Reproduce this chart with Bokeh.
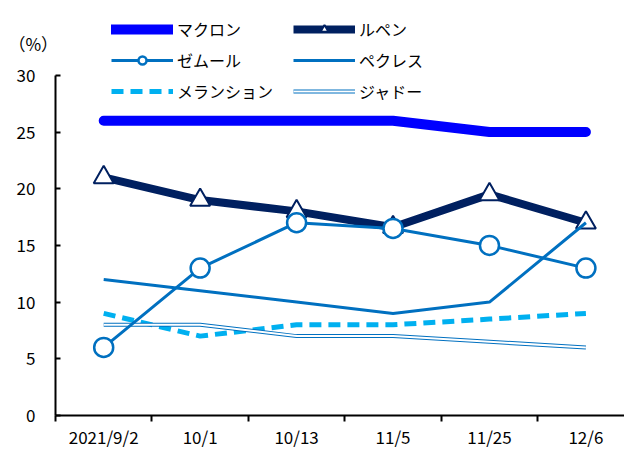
from bokeh.plotting import figure
from bokeh.models import Range1d, FixedTicker, Legend, LegendItem, Label
from bokeh.embed import file_html
from bokeh.resources import INLINE

categories = ["2021/9/2", "10/1", "10/13", "11/5", "11/25", "12/6"]
macron = [26, 26, 26, 26, 25, 25]
lepen = [21, 19, 18, 16.6, 19.5, 17]
zemmour = [6, 13, 17, 16.5, 15, 13]
pecresse = [12, 11, 10, 9, 10, 17]
melenchon = [9, 7, 8, 8, 8.5, 9]
jadot = [8, 8, 7, 7, 6.5, 6]

FONT = "Noto Sans CJK JP"
xs = list(range(len(categories)))

# frame covers the whole canvas; axes sit at fixed data locations inside it
p = figure(width=624, height=449, output_backend="svg", toolbar_location=None,
           x_range=Range1d(-1.07, 5.4), y_range=Range1d(-3.0, 36.6),
           min_border_left=0, min_border_right=0, min_border_top=0, min_border_bottom=0)
p.outline_line_color = None
p.xgrid.visible = False
p.ygrid.visible = False
p.background_fill_color = "white"
p.border_fill_color = "white"

r_mac = p.line(xs, macron, line_color="#0000FF", line_width=10, line_cap="round", line_join="round")
r_lep = p.line(xs, lepen, line_color="#002060", line_width=8, line_join="round")
r_lep_m = p.scatter(xs, lepen, marker="triangle", size=20, fill_color="white", line_color="#002060", line_width=2)
r_pec = p.line(xs, pecresse, line_color="#0070C0", line_width=3)
r_mel = p.line(xs, melenchon, line_color="#00B0F0", line_width=5, line_dash="12 7")
r_jad1 = p.line(xs, jadot, line_color="#0070C0", line_width=4)
r_jad2 = p.line(xs, jadot, line_color="white", line_width=2)
r_zem = p.line(xs, zemmour, line_color="#0070C0", line_width=3)
r_zem_m = p.scatter(xs, zemmour, marker="circle", size=19, fill_color="white", line_color="#0070C0", line_width=2.5)

# x axis
p.xaxis.fixed_location = 0
p.xaxis.bounds = (-0.5, 5.4)
p.xaxis.ticker = FixedTicker(ticks=xs, minor_ticks=[-0.5, 0.5, 1.5, 2.5, 3.5, 4.5])
p.xaxis.major_label_overrides = {i: c for i, c in enumerate(categories)}
p.xaxis.major_tick_out = 0
p.xaxis.major_tick_in = 0
p.xaxis.minor_tick_out = 6
p.xaxis.minor_tick_in = 0
p.xaxis.minor_tick_line_color = "black"
p.xaxis.minor_tick_line_width = 2
p.xaxis.axis_line_width = 2
p.xaxis.axis_line_color = "black"
p.xaxis.major_label_text_font = FONT
p.xaxis.major_label_text_font_size = "17px"
p.xaxis.major_label_text_color = "black"
p.xaxis.major_label_standoff = 3

# y axis at the left edge of the first category band
p.yaxis.fixed_location = -0.5
p.yaxis.bounds = (0, 30)
p.yaxis.ticker = FixedTicker(ticks=[0, 5, 10, 15, 20, 25, 30])
p.yaxis.minor_tick_line_color = None
p.yaxis.major_tick_in = 5
p.yaxis.major_tick_out = 0
p.yaxis.major_tick_line_width = 2
p.yaxis.major_tick_line_color = "black"
p.yaxis.axis_line_width = 2
p.yaxis.axis_line_color = "black"
p.yaxis.major_label_text_font = FONT
p.yaxis.major_label_text_font_size = "17px"
p.yaxis.major_label_text_color = "black"
p.yaxis.major_label_standoff = 20

p.add_layout(Label(x=-0.73, y=32.8, text="（%）",
                   text_font=FONT, text_font_size="17px",
                   text_align="center", text_baseline="middle", text_color="black"))

common = dict(glyph_width=62, glyph_height=20, label_standoff=4, spacing=7,
              label_text_font=FONT, label_text_font_size="16px", label_text_color="black",
              background_fill_alpha=0, border_line_color=None, padding=0, margin=0)

legend1 = Legend(items=[
    LegendItem(label="マクロン", renderers=[r_mac]),
    LegendItem(label="ゼムール", renderers=[r_zem, r_zem_m]),
    LegendItem(label="メランション", renderers=[r_mel]),
], location=(111, 346), **common)
legend2 = Legend(items=[
    LegendItem(label="ルペン", renderers=[r_lep, r_lep_m]),
    LegendItem(label="ペクレス", renderers=[r_pec]),
    LegendItem(label="ジャドー", renderers=[r_jad1, r_jad2]),
], location=(293, 346), **common)
p.add_layout(legend1)
p.add_layout(legend2)

open("out.html", "w").write(file_html(p, INLINE))
